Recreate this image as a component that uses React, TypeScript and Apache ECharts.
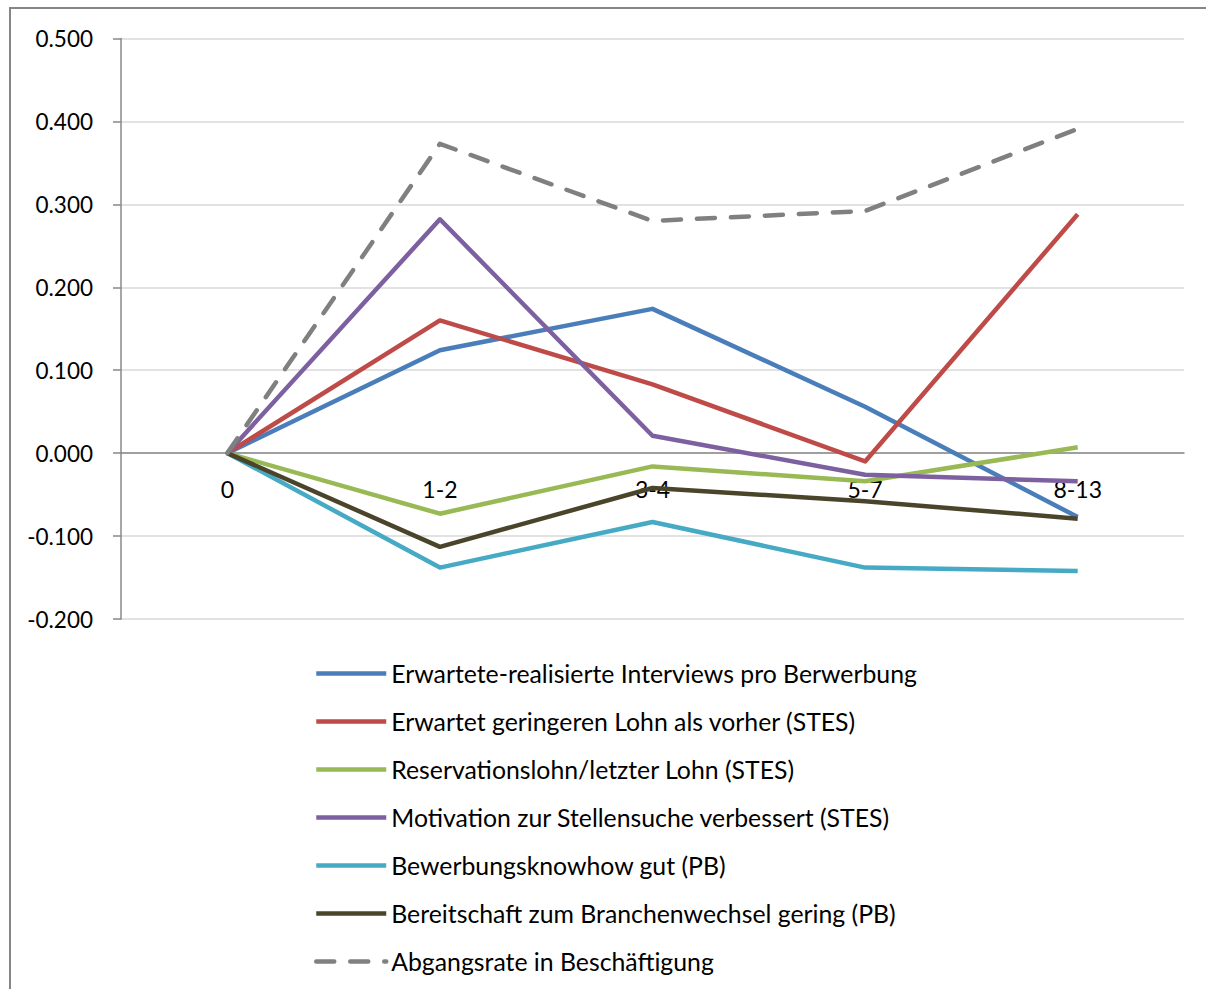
import React, { useEffect, useRef } from "react";
import * as echarts from "echarts";

const categories = ["0", "1-2", "3-4", "5-7", "8-13"];
const seriesNames = [
  "Erwartete-realisierte Interviews pro Berwerbung",
  "Erwartet geringeren Lohn als vorher (STES)",
  "Reservationslohn/letzter Lohn (STES)",
  "Motivation zur Stellensuche verbessert (STES)",
  "Bewerbungsknowhow gut (PB)",
  "Bereitschaft zum Branchenwechsel gering (PB)",
  "Abgangsrate in Beschäftigung",
];
const interviews = [0, 0.124, 0.174, 0.056, -0.077];
const geringererLohn = [0, 0.16, 0.083, -0.01, 0.288];
const reservationslohn = [0, -0.073, -0.016, -0.034, 0.007];
const motivation = [0, 0.282, 0.021, -0.026, -0.034];
const knowhow = [0, -0.138, -0.083, -0.138, -0.142];
const branchenwechsel = [0, -0.113, -0.042, -0.058, -0.079];
const abgangsrate = [0, 0.373, 0.28, 0.292, 0.391];
const yTicks = { min: -0.2, max: 0.5, interval: 0.1 };

const seriesData = [interviews, geringererLohn, reservationslohn, motivation, knowhow, branchenwechsel, abgangsrate];
const colors = ["#4A7EBB", "#BE4B48", "#98B954", "#7D60A0", "#46AAC5", "#4A452A", "#808080"];

export default function App() {
  const ref = useRef<HTMLDivElement>(null);
  useEffect(() => {
    if (!ref.current) return;
    const chart = echarts.init(ref.current, null, { renderer: "svg" });
    const font = "Lato, 'Open Sans', sans-serif";
    const gridTop = 38.5;
    const gridBottom = 370;
    const gridHeight = 989 - gridTop - gridBottom;
    const zeroFromBottom = (gridHeight * (0 - yTicks.min)) / (yTicks.max - yTicks.min);
    chart.setOption({
      animation: false,
      backgroundColor: "#ffffff",
      textStyle: { fontFamily: font },
      graphic: [
        {
          type: "rect",
          shape: { x: 10, y: 8, width: 1400, height: 1200 },
          style: { fill: "none", stroke: "#868686", lineWidth: 2 },
          silent: true,
        },
      ],
      grid: { left: 121, right: 22, top: gridTop, bottom: gridBottom },
      xAxis: {
        type: "category",
        data: categories,
        boundaryGap: true,
        offset: -zeroFromBottom,
        axisLine: { onZero: false, lineStyle: { color: "#898989", width: 1.5 } },
        axisTick: { show: false },
        axisLabel: { fontSize: 23, color: "#000", margin: 24, fontFamily: font },
        splitLine: { show: false },
      },
      yAxis: {
        type: "value",
        min: yTicks.min,
        max: yTicks.max,
        interval: yTicks.interval,
        axisLine: { show: true, lineStyle: { color: "#898989", width: 1.5 } },
        axisTick: { show: true, length: 8, lineStyle: { color: "#898989", width: 1.5 } },
        axisLabel: {
          fontSize: 22.5,
          color: "#000",
          margin: 28,
          fontFamily: font,
          formatter: (v: number) => v.toFixed(3),
        },
        splitLine: { show: true, lineStyle: { color: "#d9d9d9", width: 1.5 } },
      },
      legend: {
        orient: "vertical",
        left: 314,
        top: 661,
        padding: 0,
        itemWidth: 70,
        itemHeight: 24,
        itemGap: 23,
        itemStyle: { opacity: 0 },
        lineStyle: { width: 4.5 },
        textStyle: { fontSize: 24.8, color: "#000", fontFamily: font, lineHeight: 24 },
        data: seriesNames,
      },
      series: seriesNames.map((name, i) => ({
        name,
        type: "line",
        data: seriesData[i],
        symbol: "none",
        showSymbol: false,
        color: colors[i],
        lineStyle: {
          color: colors[i],
          width: 4.5,
          type: i === 6 ? [18, 16] : "solid",
          cap: i === 6 ? "round" : "butt",
          join: "round",
        },
        z: 2 + i,
      })),
    });
    return () => chart.dispose();
  }, []);
  return (
    <div
      ref={ref}
      style={{ position: "absolute", left: 0, top: 0, width: 1206, height: 989 }}
    />
  );
}
